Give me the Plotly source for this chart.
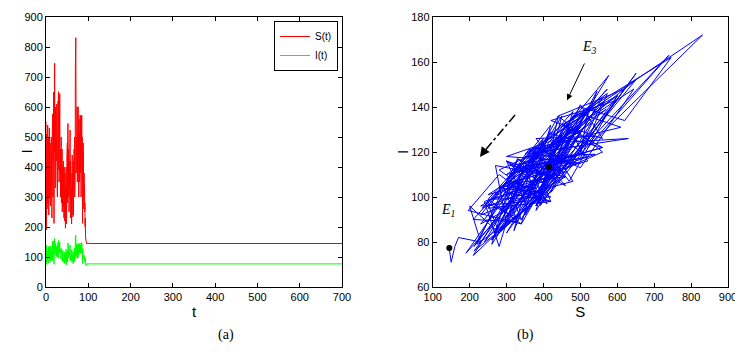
import numpy as np
import plotly.graph_objects as go

# time grid of the chaotic transient (step 0.5), then the settled tail
t_vals = list(np.arange(0, 96.5, 0.5)) + [100, 700]

s_vals = [
    550, 190, 420, 300, 510, 260, 460, 350, 540, 280,
    400, 330, 500, 240, 450, 380, 530, 300, 420, 360,
    480, 270, 440, 390, 350, 500, 310, 460, 230, 410,
    520, 340, 577, 300, 480, 420, 650, 380, 212, 500,
    620, 746, 450, 560, 330, 600, 470, 380, 540, 420,
    500, 610, 360, 480, 300, 560, 440, 620, 390, 651,
    480, 560, 350, 630, 420, 645, 500, 380, 460, 300,
    440, 350, 500, 280, 410, 360, 460, 250, 400, 320,
    380, 270, 420, 300, 350, 230, 400, 260, 330, 220,
    380, 280, 196, 340, 250, 400, 210, 300, 270, 430,
    330, 480, 280, 520, 545, 380, 460, 300, 420, 250,
    360, 460, 310, 500, 523, 340, 420, 230, 380, 290,
    330, 210, 400, 260, 440, 300, 380, 234, 350, 280,
    240, 420, 330, 460, 380, 500, 300, 470, 400, 740,
    520, 831, 450, 380, 500, 560, 420, 600, 350, 480,
    540, 380, 601, 460, 520, 300, 560, 420, 480, 350,
    500, 573, 420, 560, 380, 570, 300, 520, 450, 573,
    400, 500, 350, 212, 450, 380, 480, 300, 420, 260,
    380, 300, 340, 250, 280, 200, 230, 170, 160, 150,
    148, 146, 145, 145, 145,
]

i_vals = [
    140, 75, 129, 91, 138, 81, 122, 118, 119, 104,
    102, 113, 131, 80, 136, 94, 133, 106, 98, 120,
    127, 85, 136, 97, 113, 119, 114, 109, 88, 125,
    138, 90, 154, 99, 107, 122, 152, 98, 76, 140,
    134, 162, 132, 122, 111, 145, 107, 126, 127, 102,
    137, 131, 121, 114, 101, 120, 136, 148, 96, 155,
    116, 142, 119, 126, 124, 148, 113, 122, 116, 118,
    126, 92, 129, 112, 97, 114, 111, 101, 117, 85,
    122, 84, 104, 116, 98, 96, 114, 79, 117, 79,
    98, 110, 94, 88, 99, 126, 74, 88, 114, 109,
    113, 118, 84, 136, 147, 96, 133, 102, 98, 95,
    121, 109, 106, 119, 140, 88, 132, 92, 102, 105,
    89, 90, 125, 81, 108, 116, 104, 95, 116, 78,
    98, 108, 117, 105, 120, 129, 84, 131, 103, 163,
    122, 172, 130, 98, 141, 126, 134, 143, 96, 136,
    139, 96, 145, 133, 116, 106, 144, 108, 138, 114,
    117, 146, 128, 122, 114, 139, 110, 118, 126, 148,
    115, 115, 118, 78, 128, 96, 128, 108, 100, 99,
    104, 106, 90, 97, 84, 96, 80, 82, 78, 71,
    74, 76, 77, 77, 77,
]

# equilibria
eq_s = [145, 415]
eq_i = [77.3, 113.3]

# page body adds an 8px offset, so the figure is a bit smaller than the window
W, H, OFF = 735, 347, 8


def px(x):
    return (x - OFF) / W


def py(y):
    return 1 - (y - OFF) / H


fig = go.Figure()

fig.add_trace(go.Scatter(x=t_vals, y=s_vals, mode='lines', name='S(t)',
                         line=dict(color='#ff0000', width=1), xaxis='x', yaxis='y'))
fig.add_trace(go.Scatter(x=t_vals, y=i_vals, mode='lines', name='I(t)',
                         line=dict(color='#00ff00', width=1), xaxis='x', yaxis='y'))
fig.add_trace(go.Scatter(x=s_vals, y=i_vals, mode='lines', showlegend=False,
                         line=dict(color='#0000ff', width=1), xaxis='x2', yaxis='y2'))
fig.add_trace(go.Scatter(x=eq_s, y=eq_i, mode='markers', showlegend=False,
                         marker=dict(color='black', size=6), xaxis='x2', yaxis='y2'))

ax_style = dict(showline=True, linecolor='black', linewidth=1, mirror='ticks',
                ticks='inside', ticklen=4, tickcolor='black', showgrid=False,
                zeroline=False, automargin=False,
                tickfont=dict(family='Liberation Sans', size=11, color='black'),
                title_font=dict(family='Liberation Sans', size=15, color='black'))

fig.update_layout(
    width=W, height=H,
    margin=dict(l=0, r=0, t=0, b=0, autoexpand=False),
    paper_bgcolor='white', plot_bgcolor='white',
    xaxis=dict(ax_style, domain=[px(46), px(342)], range=[0, 700], dtick=100,
               title=dict(text='t', standoff=4), anchor='y'),
    yaxis=dict(ax_style, domain=[py(287), py(17)], range=[0, 900], dtick=100, anchor='x'),
    xaxis2=dict(ax_style, domain=[px(432.7), px(728)], range=[100, 900], dtick=100,
                title=dict(text='S', standoff=4), anchor='y2'),
    yaxis2=dict(ax_style, domain=[py(287), py(17)], range=[60, 180], dtick=20, anchor='x2'),
    legend=dict(x=px(338), y=py(21), xanchor='right', yanchor='top',
                bordercolor='black', borderwidth=1, bgcolor='white',
                font=dict(family='Liberation Sans', size=10, color='black'),
                tracegroupgap=0, itemwidth=30),
    showlegend=True,
)

# rotated y titles, as in the original
for xp in (16, 403):
    fig.add_annotation(xref='paper', yref='paper', x=px(xp), y=py(152),
                       text='I', textangle=-90, showarrow=False,
                       font=dict(family='Liberation Sans', size=15, color='black'))

# dash-dot direction arrow
fig.add_shape(type='line', xref='x2', yref='y2', x0=323, y0=136.4, x1=236, y1=119.6,
              line=dict(color='black', width=1.5, dash='dashdot'))
fig.add_annotation(xref='x2', yref='y2', axref='x2', ayref='y2',
                   x=228, y=117.8, ax=240, ay=120.5, text='', showarrow=True,
                   arrowhead=2, arrowsize=1.3, arrowwidth=1.5, arrowcolor='black')

# E3 arrow and labels
fig.add_annotation(xref='x2', yref='y2', axref='x2', ayref='y2',
                   x=464, y=143, ax=513, ay=160, text='', showarrow=True,
                   arrowhead=2, arrowsize=1.2, arrowwidth=1, arrowcolor='black')
fig.add_annotation(xref='x2', yref='y2', x=526, y=166.5, showarrow=False,
                   text='<i>E<sub>3</sub></i>',
                   font=dict(family='Liberation Serif', size=14, color='black'))
fig.add_annotation(xref='x2', yref='y2', x=142, y=94, showarrow=False,
                   text='<i>E<sub>1</sub></i>',
                   font=dict(family='Liberation Serif', size=14, color='black'))

# panel captions
fig.add_annotation(xref='paper', yref='paper', x=px(216), y=py(345),
                   text='(a)', showarrow=False,
                   font=dict(family='Liberation Serif', size=14, color='black'))
fig.add_annotation(xref='paper', yref='paper', x=px(536), y=py(345),
                   text='(b)', showarrow=False,
                   font=dict(family='Liberation Serif', size=14, color='black'))

fig.write_html("out.html")
